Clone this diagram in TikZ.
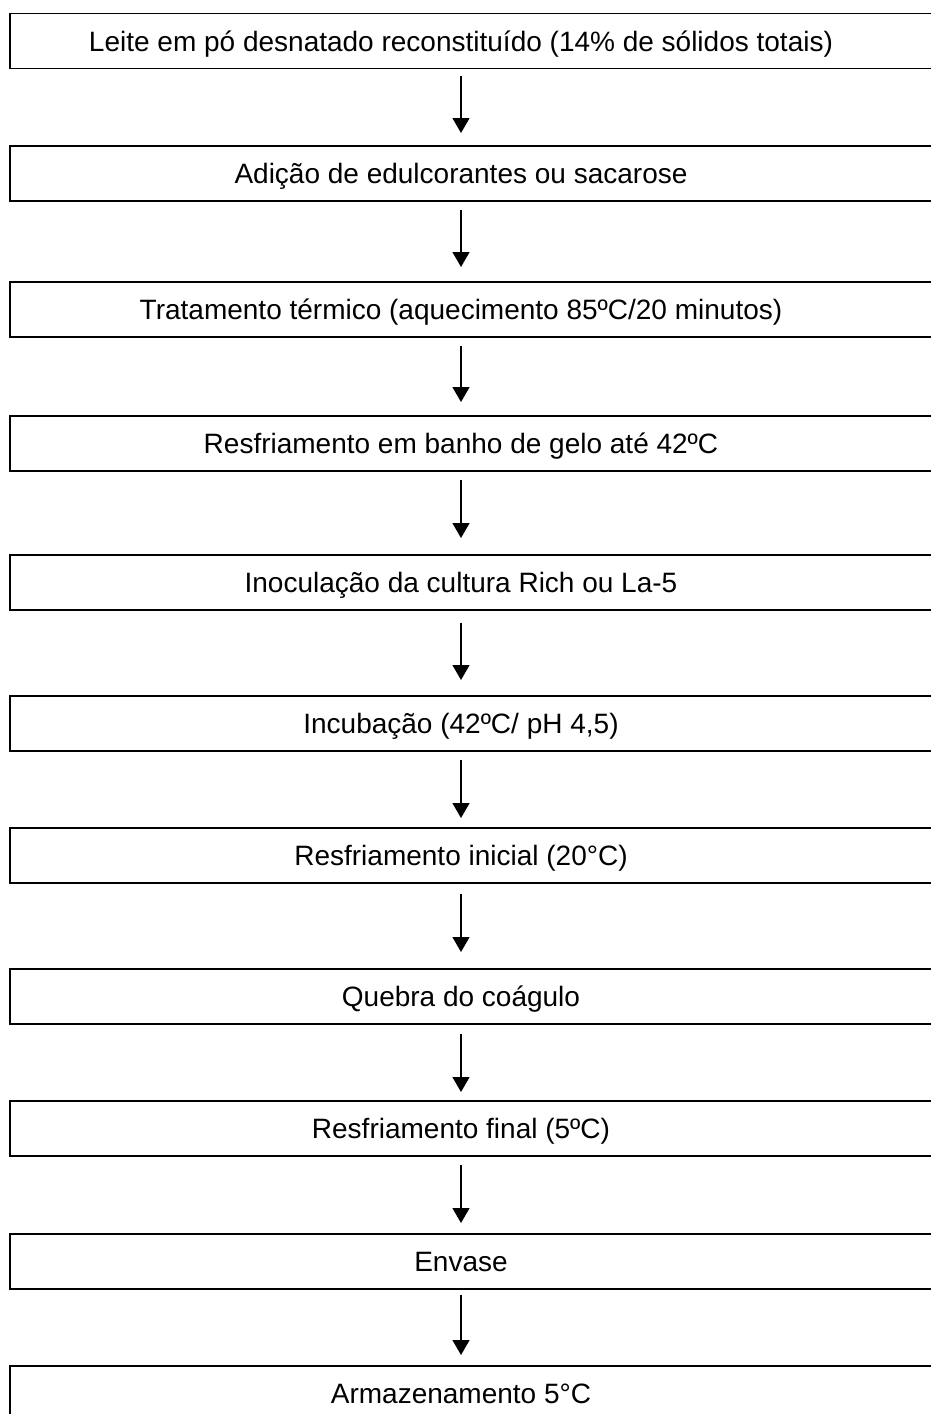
\documentclass[tikz,border=0pt]{standalone}
\usepackage{fontspec}
\setmainfont{Liberation Sans}
\usetikzlibrary{arrows.meta}
\begin{document}
\begin{tikzpicture}[x=1pt,y=-1pt,
  stepbox/.style={draw, line width=1.6pt, rectangle, minimum width=940pt, minimum height=55pt, anchor=north west, inner sep=0pt},
  steptext/.style={anchor=base, inner sep=0pt, font=\fontsize{28}{34}\selectfont},
  flowarrow/.style={line width=1.3pt, -{Triangle[length=15pt,width=17pt]}}]
\useasboundingbox (0,0) rectangle (931,1414);
\clip (0,0) rectangle (931,1414);
\node[stepbox] (b1) at (9,12.7) {};
\node[steptext] (t1) at (461,51.2) {Leite em pó desnatado reconstituído (14\% de sólidos totais)};
\node[stepbox] (b2) at (9,145) {};
\node[steptext] (t2) at (461,183.5) {Adição de edulcorantes ou sacarose};
\node[stepbox] (b3) at (9,281) {};
\node[steptext] (t3) at (461,319.5) {Tratamento térmico (aquecimento 85ºC/20 minutos)};
\node[stepbox] (b4) at (9,415) {};
\node[steptext] (t4) at (461,453.5) {Resfriamento em banho de gelo até 42ºC};
\node[stepbox] (b5) at (9,554) {};
\node[steptext] (t5) at (461,592.5) {Inoculação da cultura Rich ou La-5};
\node[stepbox] (b6) at (9,695) {};
\node[steptext] (t6) at (461,733.5) {Incubação (42ºC/ pH 4,5)};
\node[stepbox] (b7) at (9,827) {};
\node[steptext] (t7) at (461,865.5) {Resfriamento inicial (20°C)};
\node[stepbox] (b8) at (9,968) {};
\node[steptext] (t8) at (461,1006.5) {Quebra do coágulo};
\node[stepbox] (b9) at (9,1100) {};
\node[steptext] (t9) at (461,1138.5) {Resfriamento final (5ºC)};
\node[stepbox] (b10) at (9,1233) {};
\node[steptext] (t10) at (461,1271.5) {Envase};
\node[stepbox] (b11) at (9,1365) {};
\node[steptext] (t11) at (461,1403.5) {Armazenamento 5°C};
\foreach \a/\b/\s/\e in {1/2/7/12, 2/3/8/14, 3/4/8/13, 4/5/8/16, 5/6/12/15, 6/7/8/9, 7/8/10/16, 8/9/9/8, 9/10/8/10, 10/11/5/10}{
  \draw[flowarrow, shorten <=\s pt, shorten >=\e pt] (b\a.south -| t\a) -- (b\b.north -| t\b);
}
\end{tikzpicture}
\end{document}
